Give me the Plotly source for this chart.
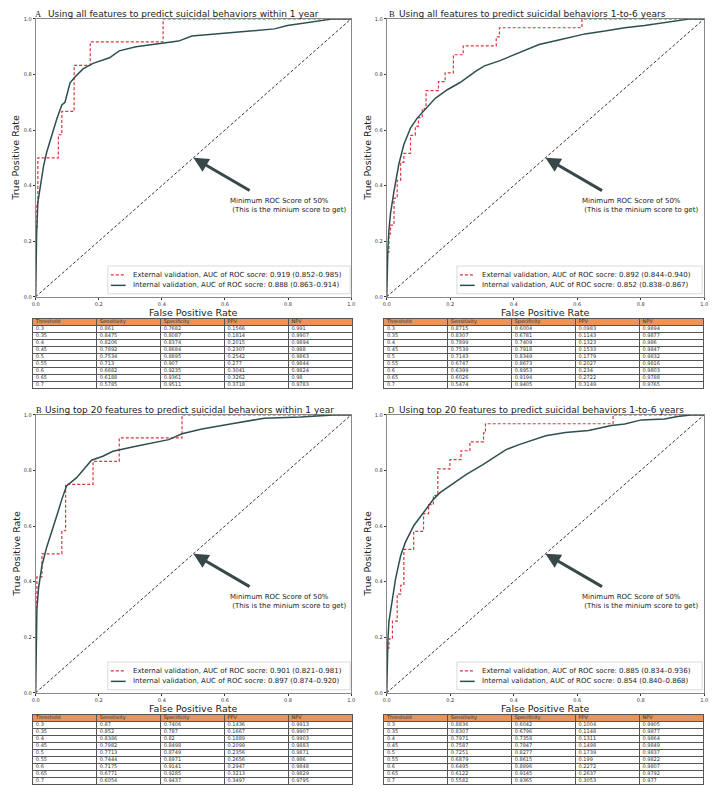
import plotly.graph_objects as go

W, H = 722, 799

# ---------------- ROC data ----------------
# Panel A: all features, within 1 year
ext_fpr_A = [0.0, 0.0, 0.002, 0.004, 0.007, 0.072, 0.083, 0.122, 0.173, 0.404, 1.0]
ext_tpr_A = [0.0, 0.167, 0.25, 0.333, 0.5, 0.583, 0.667, 0.833, 0.917, 1.0, 1.0]
int_fpr_A = [0.0, 0.001, 0.003, 0.007, 0.015, 0.025, 0.035, 0.051, 0.067, 0.083, 0.093, 0.109,
             0.124, 0.150, 0.182, 0.234, 0.265, 0.318, 0.404, 0.453, 0.495, 0.579, 0.683, 0.757,
             0.798, 0.892, 0.944, 1.0]
int_tpr_A = [0.0, 0.13, 0.22, 0.34, 0.40, 0.47, 0.52, 0.58, 0.64, 0.69, 0.70, 0.77,
             0.79, 0.82, 0.84, 0.86, 0.885, 0.90, 0.914, 0.92, 0.938, 0.946, 0.956, 0.964,
             0.976, 0.992, 1.0, 1.0]

# Panel B: all features, 1-to-6 years
ext_fpr_B = [0.0, 0.0, 0.007, 0.012, 0.023, 0.033, 0.044, 0.054, 0.075, 0.090, 0.100, 0.112,
             0.124, 0.163, 0.184, 0.210, 0.241, 0.345, 0.355, 0.615, 1.0]
ext_tpr_B = [0.0, 0.161, 0.226, 0.258, 0.355, 0.419, 0.484, 0.516, 0.581, 0.613, 0.645, 0.677,
             0.742, 0.774, 0.806, 0.871, 0.903, 0.935, 0.968, 1.0, 1.0]
int_fpr_B = [0.0, 0.002, 0.004, 0.007, 0.012, 0.023, 0.038, 0.054, 0.075, 0.096, 0.116, 0.153,
             0.191, 0.231, 0.282, 0.308, 0.355, 0.417, 0.480, 0.542, 0.625, 0.687, 0.750, 0.812,
             0.906, 0.957, 1.0]
int_tpr_B = [0.0, 0.12, 0.18, 0.24, 0.30, 0.38, 0.476, 0.548, 0.607, 0.643, 0.667, 0.714,
             0.745, 0.771, 0.813, 0.831, 0.849, 0.879, 0.908, 0.924, 0.946, 0.956, 0.968, 0.976,
             0.992, 1.0, 1.0]

# Panel C (labelled "B"): top 20 features, within 1 year
ext_fpr_C = [0.0, 0.0, 0.002, 0.004, 0.020, 0.083, 0.095, 0.182, 0.265, 0.464, 1.0]
ext_tpr_C = [0.0, 0.167, 0.333, 0.417, 0.5, 0.583, 0.75, 0.833, 0.917, 1.0, 1.0]
int_fpr_C = [0.0, 0.001, 0.004, 0.009, 0.020, 0.035, 0.051, 0.067, 0.083, 0.098, 0.130, 0.156,
             0.177, 0.213, 0.245, 0.318, 0.422, 0.464, 0.527, 0.631, 0.725, 0.840, 0.944, 1.0]
int_tpr_C = [0.0, 0.15, 0.30, 0.375, 0.458, 0.524, 0.577, 0.637, 0.696, 0.744, 0.774, 0.810,
             0.837, 0.851, 0.869, 0.887, 0.911, 0.932, 0.949, 0.970, 0.988, 0.992, 1.0, 1.0]

# Panel D: top 20 features, 1-to-6 years
ext_fpr_D = [0.0, 0.0, 0.007, 0.018, 0.033, 0.044, 0.054, 0.085, 0.116, 0.132, 0.147, 0.161,
             0.199, 0.234, 0.262, 0.305, 0.311, 0.713, 1.0]
ext_tpr_D = [0.0, 0.161, 0.194, 0.258, 0.355, 0.387, 0.516, 0.581, 0.645, 0.677, 0.71, 0.806,
             0.839, 0.871, 0.903, 0.935, 0.968, 1.0, 1.0]
int_fpr_D = [0.0, 0.002, 0.004, 0.007, 0.018, 0.028, 0.044, 0.059, 0.085, 0.116, 0.147, 0.168,
             0.199, 0.251, 0.303, 0.334, 0.376, 0.417, 0.459, 0.501, 0.563, 0.636, 0.708, 0.750,
             0.802, 0.875, 0.916, 0.957, 1.0]
int_tpr_D = [0.0, 0.12, 0.196, 0.256, 0.339, 0.411, 0.494, 0.542, 0.601, 0.649, 0.696, 0.720,
             0.744, 0.786, 0.821, 0.845, 0.875, 0.893, 0.908, 0.925, 0.937, 0.944, 0.962, 0.967,
             0.982, 0.985, 0.994, 1.0, 1.0]

chance_line = [0.0, 1.0]

# ---------------- Titles / legend texts ----------------
panel_letters = ["A", "B", "B", "D"]
panel_titles = [
    "Using all features to predict suicidal behaviors within 1 year",
    "Using all features to predict suicidal behaviors 1-to-6 years",
    "Using top 20 features to predict suicidal behaviors within 1 year",
    "Using top 20 features to predict suicidal behaviors 1-to-6 years",
]
ext_auc = ["0.919 (0.852–0.985)", "0.892 (0.844–0.940)", "0.901 (0.821–0.981)", "0.885 (0.834–0.936)"]
int_auc = ["0.888 (0.863–0.914)", "0.852 (0.838–0.867)", "0.897 (0.874–0.920)", "0.854 (0.840–0.868)"]

tick_vals = [0.0, 0.2, 0.4, 0.6, 0.8, 1.0]

# ---------------- Tables ----------------
table_header = ["Threshold", "Sensitivity", "Specificity", "PPV", "NPV"]
thresholds = ["0.3", "0.35", "0.4", "0.45", "0.5", "0.55", "0.6", "0.65", "0.7"]

sens_A = [0.861, 0.8475, 0.8206, 0.7892, 0.7534, 0.713, 0.6682, 0.6188, 0.5785]
spec_A = [0.7682, 0.8087, 0.8374, 0.8684, 0.8895, 0.907, 0.9235, 0.9361, 0.9511]
ppv_A = [0.1566, 0.1814, 0.2015, 0.2307, 0.2542, 0.277, 0.3041, 0.3262, 0.3718]
npv_A = [0.991, 0.9907, 0.9894, 0.988, 0.9863, 0.9844, 0.9824, 0.98, 0.9783]

sens_B = [0.8715, 0.8307, 0.7899, 0.7539, 0.7143, 0.6747, 0.6399, 0.6026, 0.5474]
spec_B = [0.6004, 0.6781, 0.7409, 0.7918, 0.8349, 0.8673, 0.8953, 0.9194, 0.9405]
ppv_B = [0.0983, 0.1143, 0.1323, 0.1533, 0.1779, 0.2027, 0.234, 0.2722, 0.3149]
npv_B = [0.9894, 0.9877, 0.986, 0.9847, 0.9832, 0.9816, 0.9803, 0.9788, 0.9765]

sens_C = [0.87, 0.852, 0.8386, 0.7982, 0.7713, 0.7444, 0.7175, 0.6771, 0.6054]
spec_C = [0.7406, 0.787, 0.82, 0.8498, 0.8749, 0.8971, 0.9141, 0.9285, 0.9437]
ppv_C = [0.1436, 0.1667, 0.1889, 0.2099, 0.2356, 0.2656, 0.2947, 0.3213, 0.3497]
npv_C = [0.9913, 0.9907, 0.9903, 0.9883, 0.9871, 0.986, 0.9848, 0.9829, 0.9795]

sens_D = [0.8836, 0.8307, 0.7971, 0.7587, 0.7251, 0.6879, 0.6495, 0.6122, 0.5582]
spec_D = [0.6042, 0.6796, 0.7358, 0.7847, 0.8277, 0.8615, 0.8896, 0.9145, 0.9365]
ppv_D = [0.1004, 0.1148, 0.1311, 0.1498, 0.1739, 0.199, 0.2272, 0.2637, 0.3053]
npv_D = [0.9905, 0.9877, 0.9864, 0.9849, 0.9837, 0.9822, 0.9807, 0.9792, 0.977]

# ---------------- Layout (pixel geometry) ----------------
panels = [
    dict(ext=(ext_fpr_A, ext_tpr_A), intl=(int_fpr_A, int_tpr_A),
         tab=(sens_A, spec_A, ppv_A, npv_A),
         xpx=(32, 351), ypx=(16, 296), letter_x=29, title_x=42, title_y=11,
         ylab_x=12, leg_x=(105, 350), tab_x=(29, 352), tab_y=(318, 388)),
    dict(ext=(ext_fpr_B, ext_tpr_B), intl=(int_fpr_B, int_tpr_B),
         tab=(sens_B, spec_B, ppv_B, npv_B),
         xpx=(387, 708), ypx=(16, 296), letter_x=387, title_x=397, title_y=11,
         ylab_x=368, leg_x=(458, 706), tab_x=(384, 707), tab_y=(318, 388)),
    dict(ext=(ext_fpr_C, ext_tpr_C), intl=(int_fpr_C, int_tpr_C),
         tab=(sens_C, spec_C, ppv_C, npv_C),
         xpx=(32, 351), ypx=(415, 695), letter_x=30, title_x=39, title_y=410,
         ylab_x=13, leg_x=(105, 350), tab_x=(29, 352), tab_y=(717, 787)),
    dict(ext=(ext_fpr_D, ext_tpr_D), intl=(int_fpr_D, int_tpr_D),
         tab=(sens_D, spec_D, ppv_D, npv_D),
         xpx=(387, 708), ypx=(415, 695), letter_x=386, title_x=397, title_y=410,
         ylab_x=368, leg_x=(458, 706), tab_x=(384, 707), tab_y=(717, 787)),
]

RED = "#d9363e"
GRAY = "#2f4f4f"
ARROW = "#37474a"
FONT = "DejaVu Sans"
HEADER_FILL = "#e8945a"
GRID = "#555555"


def fx(p):
    return p / W


def fy(p):
    return 1 - p / H


fig = go.Figure()
annotations = []
shapes = []
layout_axes = {}

for i, p in enumerate(panels):
    n = i + 1
    xa = "x" if n == 1 else f"x{n}"
    ya = "y" if n == 1 else f"y{n}"

    fig.add_trace(go.Scatter(x=chance_line, y=chance_line, mode="lines", xaxis=xa, yaxis=ya,
                             line=dict(color="black", width=0.8, dash="3px,2px"),
                             showlegend=False, hoverinfo="skip"))
    fig.add_trace(go.Scatter(x=p["ext"][0], y=p["ext"][1], mode="lines", xaxis=xa, yaxis=ya,
                             line=dict(color=RED, width=1.2, dash="3px,2px", shape="hv"),
                             name="External validation", showlegend=False))
    fig.add_trace(go.Scatter(x=p["intl"][0], y=p["intl"][1], mode="lines", xaxis=xa, yaxis=ya,
                             line=dict(color=GRAY, width=1.5),
                             name="Internal validation", showlegend=False))

    ax_common = dict(range=[0, 1.0], tickvals=tick_vals, tickformat=".1f",
                     ticks="outside", ticklen=2, tickwidth=0.8, tickcolor="#333",
                     tickfont=dict(size=5, family=FONT, color="#333"),
                     showgrid=False, zeroline=False, showline=True, linecolor="#888",
                     linewidth=1, mirror=True, fixedrange=True)
    layout_axes["xaxis" if n == 1 else f"xaxis{n}"] = dict(
        domain=[fx(p["xpx"][0]), fx(p["xpx"][1])], anchor=ya, **ax_common)
    layout_axes["yaxis" if n == 1 else f"yaxis{n}"] = dict(
        domain=[fy(p["ypx"][1]), fy(p["ypx"][0])], anchor=xa, **ax_common)

    # titles
    annotations.append(dict(x=fx(p["letter_x"]), y=fy(p["title_y"]), xref="paper", yref="paper",
                            text=panel_letters[i], showarrow=False, xanchor="left", yanchor="middle",
                            font=dict(family="Liberation Serif", size=8.5, color="#222")))
    annotations.append(dict(x=fx(p["title_x"]), y=fy(p["title_y"]), xref="paper", yref="paper",
                            text=panel_titles[i], showarrow=False, xanchor="left", yanchor="middle",
                            font=dict(family=FONT, size=9, color="#222")))
    # axis labels
    xc = (p["xpx"][0] + p["xpx"][1]) / 2
    yc = (p["ypx"][0] + p["ypx"][1]) / 2
    annotations.append(dict(x=fx(xc), y=fy(p["ypx"][1] + 15.5), xref="paper", yref="paper",
                            text="False Positive Rate", showarrow=False, xanchor="center",
                            yanchor="middle", font=dict(family=FONT, size=9.5, color="#222")))
    annotations.append(dict(x=fx(p["ylab_x"]), y=fy(yc), xref="paper", yref="paper",
                            text="True Positive Rate", showarrow=False, textangle=-90,
                            xanchor="center", yanchor="middle",
                            font=dict(family=FONT, size=9.5, color="#222")))
    # arrow to the 50% point
    annotations.append(dict(x=0.5, y=0.5, xref=xa, yref=ya, ax=0.683, ay=0.379,
                            axref=xa, ayref=ya, text="", showarrow=True, arrowhead=2,
                            arrowsize=1, arrowwidth=3, arrowcolor=ARROW, standoff=0))
    annotations.append(dict(x=0.61, y=0.33, xref=xa, yref=ya,
                            text="Minimum ROC Score of 50%<br> (This is the minium score to get)",
                            showarrow=False, xanchor="left", yanchor="middle", align="left",
                            font=dict(family=FONT, size=7, color="#222")))

    # legend box (drawn)
    yb = p["ypx"][1]
    shapes.append(dict(type="rect", xref="paper", yref="paper",
                       x0=fx(p["leg_x"][0]), x1=fx(p["leg_x"][1]),
                       y0=fy(yb - 3), y1=fy(yb - 31),
                       line=dict(color="#d0d0d0", width=0.8), fillcolor="rgba(255,255,255,0.85)",
                       layer="above"))
    lx0 = p["leg_x"][0] + 3
    for yy, col, dash, lw, lab in [
            (yb - 22, RED, "3px,2px", 1.2, "External validation, AUC of ROC socre: " + ext_auc[i]),
            (yb - 11.5, GRAY, "solid", 1.5, "Internal validation, AUC of ROC socre: " + int_auc[i])]:
        shapes.append(dict(type="line", xref="paper", yref="paper",
                           x0=fx(lx0), x1=fx(lx0 + 15), y0=fy(yy), y1=fy(yy),
                           line=dict(color=col, width=lw, dash=dash), layer="above"))
        annotations.append(dict(x=fx(lx0 + 20), y=fy(yy), xref="paper", yref="paper",
                                text=lab, showarrow=False, xanchor="left", yanchor="middle",
                                font=dict(family=FONT, size=7, color="#222")))

    # table drawn on its own axis pair: columns 0..5, rows 0..10 (row 0 = header)
    tn = n + 4
    txa, tya = f"x{tn}", f"y{tn}"
    sens, spec, ppv, npv = p["tab"]
    columns = [thresholds, [str(v) for v in sens], [str(v) for v in spec],
               [str(v) for v in ppv], [str(v) for v in npv]]
    n_rows = len(thresholds)
    cx, cy, ct = [], [], []
    for c, col_vals in enumerate(columns):
        for r, v in enumerate(col_vals):
            cx.append(c + 0.05)
            cy.append(r + 1.5)
            ct.append(v)
    fig.add_trace(go.Scatter(x=cx, y=cy, text=ct, mode="text", textposition="middle right",
                             textfont=dict(family=FONT, size=5, color="#333"),
                             xaxis=txa, yaxis=tya, showlegend=False, hoverinfo="skip"))
    fig.add_trace(go.Scatter(x=[c + 0.05 for c in range(len(table_header))],
                             y=[0.5] * len(table_header), text=table_header, mode="text",
                             textposition="middle right",
                             textfont=dict(family=FONT, size=5, color="#333"),
                             xaxis=txa, yaxis=tya, showlegend=False, hoverinfo="skip"))
    shapes.append(dict(type="rect", xref=txa, yref=tya, x0=0, x1=len(table_header), y0=0, y1=1,
                       fillcolor=HEADER_FILL, line=dict(width=0), layer="below"))
    layout_axes[f"xaxis{tn}"] = dict(
        domain=[fx(p["tab_x"][0]), fx(p["tab_x"][1])], anchor=tya,
        range=[0, len(table_header)], tickvals=list(range(len(table_header) + 1)),
        showgrid=True, gridcolor=GRID, gridwidth=0.8, showticklabels=False, ticks="",
        zeroline=False, showline=True, linecolor=GRID, linewidth=0.8, mirror=True,
        fixedrange=True)
    layout_axes[f"yaxis{tn}"] = dict(
        domain=[fy(p["tab_y"][1]), fy(p["tab_y"][0])], anchor=txa,
        range=[n_rows + 1, 0], tickvals=list(range(n_rows + 2)),
        showgrid=True, gridcolor=GRID, gridwidth=0.8, showticklabels=False, ticks="",
        zeroline=False, showline=True, linecolor=GRID, linewidth=0.8, mirror=True,
        fixedrange=True)

fig.update_layout(width=W, height=H, autosize=False, margin=dict(l=0, r=0, t=0, b=0),
                  paper_bgcolor="white", plot_bgcolor="white", showlegend=False,
                  annotations=annotations, shapes=shapes, **layout_axes)

fig.write_html("out.html", config={"displayModeBar": False},
               post_script="document.body.style.margin='0';")
